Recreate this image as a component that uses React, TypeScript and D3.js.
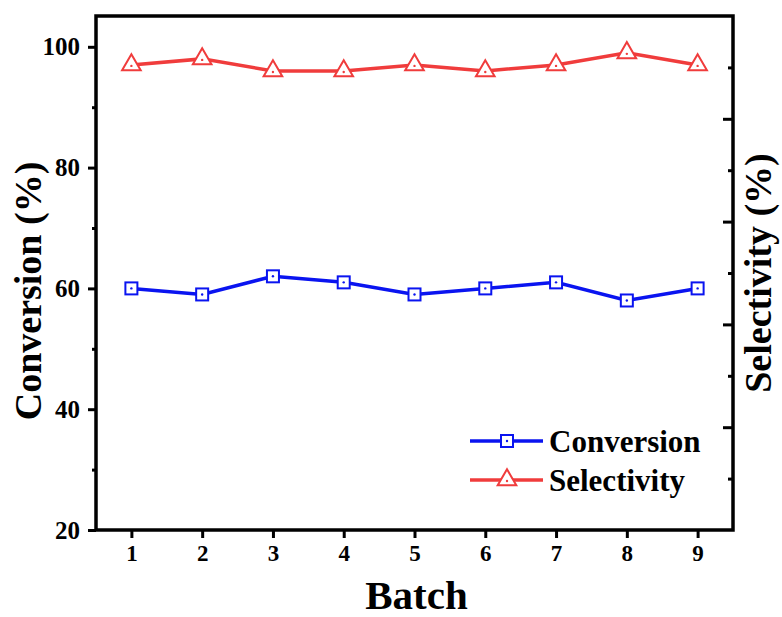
import React, { useEffect, useRef } from "react";
import * as d3 from "d3";

// data
const batches = [1, 2, 3, 4, 5, 6, 7, 8, 9];
const conversion = [60, 59, 62, 61, 59, 60, 61, 58, 60];
const selectivity = [97, 98, 96, 96, 97, 96, 97, 99, 97];
const leftTicks = [20, 40, 60, 80, 100];

const W = 782;
const H = 617;
const m = { left: 96, right: 733, top: 16, bottom: 530 };
const FONT = "Liberation Serif, Times New Roman, serif";
const BLUE = "#0a14f0";
const RED = "#f03c3c";

const App = () => {
  const ref = useRef<SVGSVGElement | null>(null);

  useEffect(() => {
    const svg = d3.select(ref.current);
    svg.selectAll("*").remove();

    const x = d3.scaleLinear().domain([0.5, 9.5]).range([m.left, m.right]);
    const y = d3.scaleLinear().domain([20, 105.1]).range([m.bottom, m.top]);
    const yR = d3.scaleLinear().domain([0, 100]).range([m.bottom, m.top]);

    const txt = (sel: any, size: number) =>
      sel
        .style("font-family", FONT)
        .style("font-weight", "bold")
        .style("font-size", `${size}px`)
        .attr("fill", "#000");

    // left axis: major outward ticks + minor
    const gl = svg.append("g").attr("transform", `translate(${m.left},0)`);
    gl.call(d3.axisLeft(y).tickValues(leftTicks).tickSize(8).tickPadding(8).tickFormat(d3.format("d")));
    gl.select(".domain").remove();
    gl.selectAll("line").attr("stroke", "#000").attr("stroke-width", 3);
    txt(gl.selectAll("text"), 25);
    const glm = svg.append("g").attr("transform", `translate(${m.left},0)`);
    glm.call(d3.axisLeft(y).tickValues([30, 50, 70, 90]).tickSize(4).tickFormat(() => ""));
    glm.select(".domain").remove();
    glm.selectAll("line").attr("stroke", "#000").attr("stroke-width", 3);

    // bottom axis
    const gb = svg.append("g").attr("transform", `translate(0,${m.bottom})`);
    gb.call(d3.axisBottom(x).tickValues(batches).tickSize(8).tickPadding(7).tickFormat(d3.format("d")));
    gb.select(".domain").remove();
    gb.selectAll("line").attr("stroke", "#000").attr("stroke-width", 3);
    txt(gb.selectAll("text"), 23);

    // right axis: inward ticks, no labels
    const gr = svg.append("g").attr("transform", `translate(${m.right},0)`);
    gr.call(d3.axisLeft(yR).tickValues([20, 40, 60, 80]).tickSize(10).tickFormat(() => ""));
    gr.select(".domain").remove();
    gr.selectAll("line").attr("stroke", "#000").attr("stroke-width", 3);
    const grm = svg.append("g").attr("transform", `translate(${m.right},0)`);
    grm.call(d3.axisLeft(yR).tickValues([10, 30, 50, 70, 90]).tickSize(5).tickFormat(() => ""));
    grm.select(".domain").remove();
    grm.selectAll("line").attr("stroke", "#000").attr("stroke-width", 3);

    // frame
    svg.append("rect")
      .attr("x", m.left)
      .attr("y", m.top)
      .attr("width", m.right - m.left)
      .attr("height", m.bottom - m.top)
      .attr("fill", "none")
      .attr("stroke", "#000")
      .attr("stroke-width", 3.5);

    const line = d3.line<number>()
      .x((d, i) => x(batches[i]))
      .y((d) => y(d));

    const drawSquare = (g: any, cx: number, cy: number) => {
      g.append("rect")
        .attr("x", cx - 6).attr("y", cy - 6)
        .attr("width", 12).attr("height", 12)
        .attr("fill", "#fff").attr("stroke", BLUE).attr("stroke-width", 2);
      g.append("circle").attr("cx", cx).attr("cy", cy).attr("r", 1.2).attr("fill", BLUE);
    };
    const tri = d3.symbol().type(d3.symbolTriangle).size(150);
    const drawTri = (g: any, cx: number, cy: number) => {
      g.append("path")
        .attr("d", tri())
        .attr("transform", `translate(${cx},${cy})`)
        .attr("fill", "#fff").attr("stroke", RED).attr("stroke-width", 2);
      g.append("circle").attr("cx", cx).attr("cy", cy + 1).attr("r", 1.2).attr("fill", RED);
    };

    // conversion
    svg.append("path").datum(conversion)
      .attr("fill", "none").attr("stroke", BLUE).attr("stroke-width", 3.5).attr("d", line);
    const gc = svg.append("g");
    conversion.forEach((d, i) => drawSquare(gc, x(batches[i]), y(d)));

    // selectivity
    svg.append("path").datum(selectivity)
      .attr("fill", "none").attr("stroke", RED).attr("stroke-width", 3.5).attr("d", line);
    const gs = svg.append("g");
    selectivity.forEach((d, i) => drawTri(gs, x(batches[i]), y(d)));

    // legend
    const leg = svg.append("g");
    leg.append("line").attr("x1", 470).attr("x2", 543).attr("y1", 441).attr("y2", 441)
      .attr("stroke", BLUE).attr("stroke-width", 3.5);
    drawSquare(leg, 507, 441);
    leg.append("line").attr("x1", 470).attr("x2", 543).attr("y1", 480).attr("y2", 480)
      .attr("stroke", RED).attr("stroke-width", 3.5);
    drawTri(leg, 507, 480);
    [["Conversion", 441], ["Selectivity", 480]].forEach(([t, yy]) => {
      txt(
        leg.append("text").attr("x", 549).attr("y", yy as number).attr("dy", "0.35em"),
        31
      ).text(t as string);
    });

    // axis titles
    txt(
      svg.append("text")
        .attr("transform", `translate(41,${(m.top + m.bottom) / 2 + 18}) rotate(-90)`)
        .attr("text-anchor", "middle"),
      38
    ).text("Conversion (%)");
    txt(
      svg.append("text")
        .attr("transform", `translate(771,${(m.top + m.bottom) / 2}) rotate(-90)`)
        .attr("text-anchor", "middle"),
      38
    ).text("Selectivity (%)");
    txt(
      svg.append("text")
        .attr("x", (m.left + m.right) / 2 + 2).attr("y", 609)
        .attr("text-anchor", "middle"),
      41
    ).text("Batch");
  }, []);

  return (
    <div style={{ position: "absolute", left: 0, top: 0 }}>
      <svg ref={ref} width={W} height={H} style={{ display: "block", background: "#fff" }} />
    </div>
  );
};

export default App;
